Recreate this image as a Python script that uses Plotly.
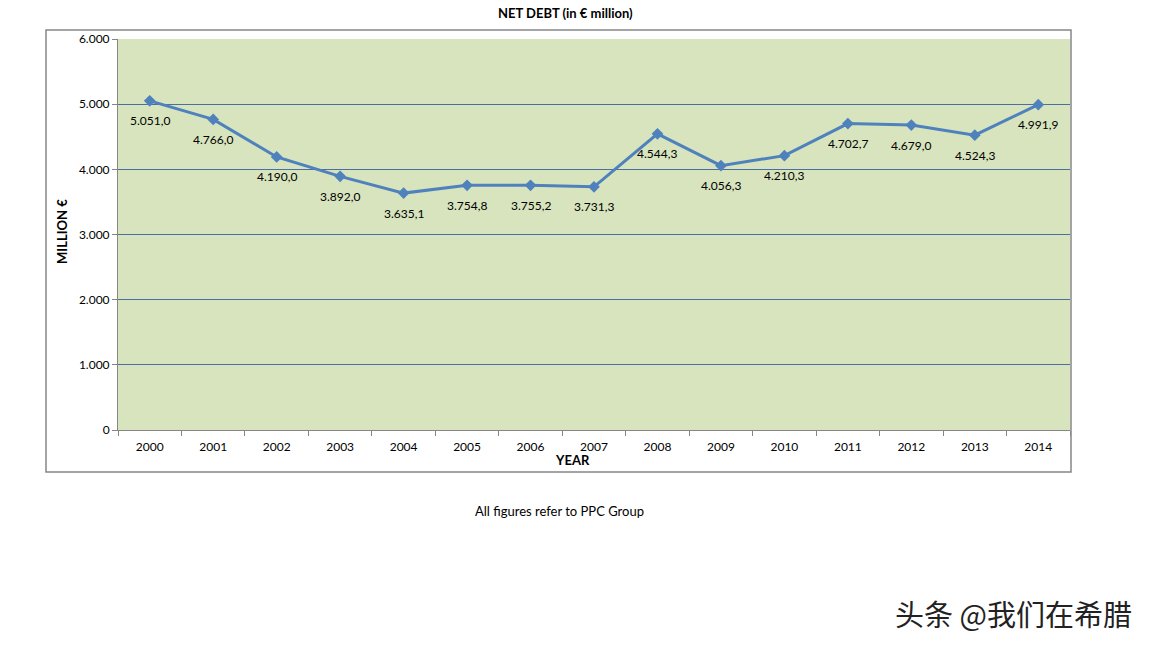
import plotly.graph_objects as go

years = ["2000", "2001", "2002", "2003", "2004", "2005", "2006", "2007",
         "2008", "2009", "2010", "2011", "2012", "2013", "2014"]
net_debt = [5051.0, 4766.0, 4190.0, 3892.0, 3635.1, 3754.8, 3755.2, 3731.3,
            4544.3, 4056.3, 4210.3, 4702.7, 4679.0, 4524.3, 4991.9]
y_ticks = [0, 1000, 2000, 3000, 4000, 5000, 6000]

W, H = 1152, 648
OFF = 8  # page body margin
L, R, T, B = 118 - OFF, 1070 - OFF, 39 - OFF, 430 - OFF
pw, ph = R - L, B - T

def px(x):
    return (x - OFF - L) / pw

def py(y):
    return (B - (y - OFF)) / ph

FONT = "Lato, 'Open Sans', sans-serif"

def eu(v):
    return f"{v:,.1f}".replace(",", "X").replace(".", ",").replace("X", ".")

fig = go.Figure()
fig.add_trace(go.Scatter(
    x=years, y=net_debt, mode="lines+markers",
    line=dict(color="#4F81BD", width=3),
    marker=dict(symbol="diamond", size=9, color="#4F81BD"),
    showlegend=False, cliponaxis=False,
))

for i, v in enumerate(net_debt):
    fig.add_annotation(x=i, y=v, xref="x", yref="y", text=eu(v),
                       showarrow=False, yshift=-20, xanchor="center", yanchor="middle",
                       font=dict(size=12, family=FONT, color="#000000"))

fig.update_layout(
    width=W, height=H,
    margin=dict(l=L, r=W - R, t=T, b=H - B),
    paper_bgcolor="white", plot_bgcolor="#D7E4BD",
    separators=",.",
    font=dict(family=FONT, size=12, color="#000000"),
    showlegend=False,
)
fig.update_xaxes(
    type="category", range=[-0.5, len(years) - 0.5], showgrid=False,
    showline=True, linecolor="#868686", linewidth=1,
    ticks="outside", tickson="boundaries", ticklen=5, tickcolor="#868686",
    tickfont=dict(size=12, family=FONT), ticklabelstandoff=6,
)
fig.update_yaxes(
    range=[0, 6000], tickvals=y_ticks, tickformat=",d",
    showgrid=True, gridcolor="#4A6FA0", gridwidth=1,
    showline=True, linecolor="#868686", linewidth=1,
    ticks="outside", ticklen=5, tickcolor="#868686",
    tickfont=dict(size=12, family=FONT), zeroline=False,
)

# outer chart border
fig.add_shape(type="rect", xref="paper", yref="paper",
              x0=px(46), x1=px(1071), y0=py(472), y1=py(30),
              line=dict(color="#868686", width=1.5), fillcolor="rgba(0,0,0,0)", layer="below")

def note(text, x, y, size, angle=0, family=FONT, color="#000000"):
    fig.add_annotation(text=text, xref="paper", yref="paper", x=px(x), y=py(y),
                       xanchor="center", yanchor="middle", showarrow=False, textangle=angle,
                       font=dict(size=size, family=family, color=color))

note("<b>NET DEBT (in € million)</b>", 565, 13, 13)
note("<b>YEAR</b>", 572, 460, 13)
note("<b>MILLION €</b>", 62, 232, 13, angle=-90)
note("All figures refer to PPC Group", 559, 511, 13)
note("头条 @我们在希腊", 1013, 613, 29, family="Noto Sans CJK SC", color="#222222")

fig.write_html("out.html")
